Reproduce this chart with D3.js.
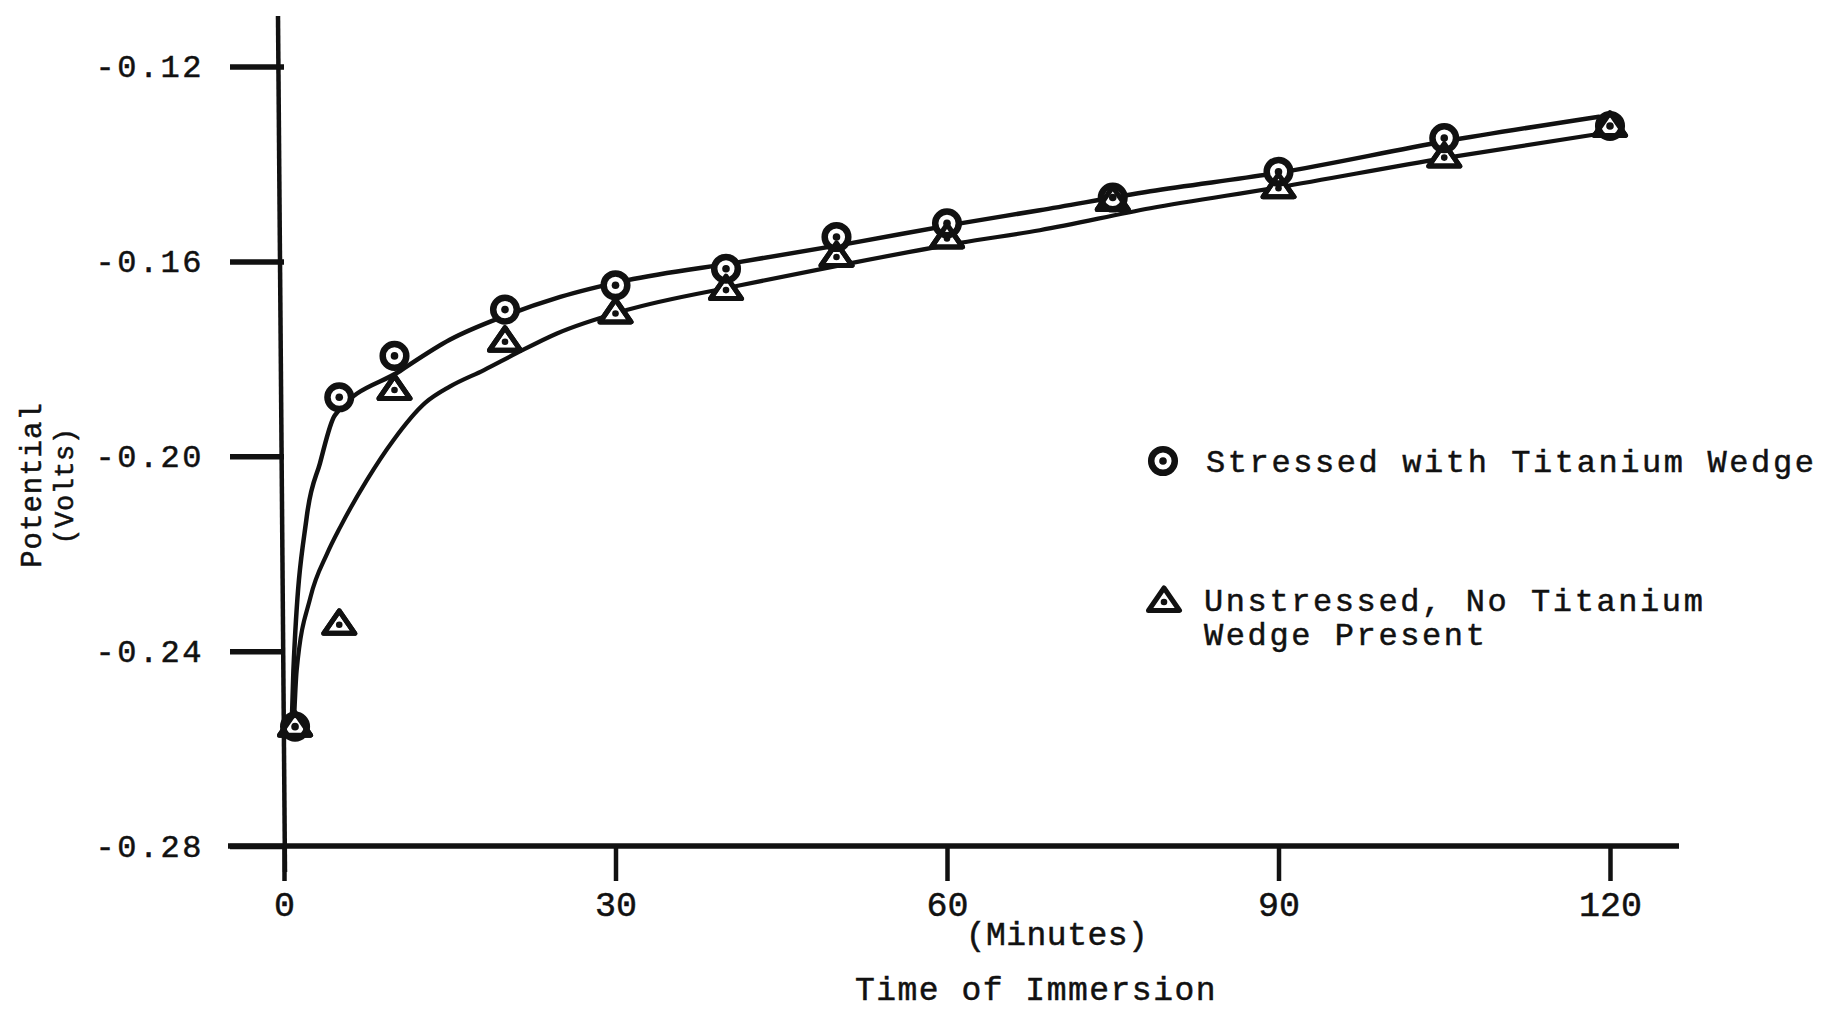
<!DOCTYPE html>
<html><head><meta charset="utf-8">
<script src="https://cdn.jsdelivr.net/npm/d3@7/dist/d3.min.js"></script>
<style>
html,body{margin:0;padding:0;background:#fff;}
svg{display:block;}
text{font-family:"Liberation Mono","Courier New",monospace;fill:#111;stroke:#111;stroke-width:0.5px;}
</style></head><body>
<svg id="chart" width="1831" height="1011"></svg>
<script>
// ---------- data ----------
const xTicks = [0, 30, 60, 90, 120];
const xTickLabels = ["0", "30", "60", "90", "120"];
const yTicks = [-0.28, -0.24, -0.20, -0.16, -0.12];
const yTickLabels = ["-0.28", "-0.24", "-0.20", "-0.16", "-0.12"];

const times      = [1, 5, 10, 20, 30, 40, 50, 60, 75, 90, 105, 120];
const stressed   = [-0.2555, -0.1879, -0.1794, -0.1699, -0.1649, -0.1615, -0.1550, -0.1522, -0.1469, -0.1416, -0.1347, -0.1322];
const unstressed = [-0.2555, -0.2346, -0.1864, -0.1765, -0.1707, -0.1659, -0.1591, -0.1553, -0.1476, -0.1450, -0.1387, -0.1324];

// hand-drawn fitted curves
const stressedCurveT = [0.7, 0.85, 2.06, 3.26, 4.6, 10.5, 15, 20, 25, 31, 41.3, 51.2, 61.2, 68.4, 78.4, 90, 105, 119];
const stressedCurveV = [-0.2550, -0.2440, -0.2124, -0.2014, -0.1916, -0.1825, -0.1761, -0.1712, -0.1673, -0.1639, -0.1601, -0.1563, -0.1522, -0.1495, -0.1456, -0.1418, -0.1354, -0.1303];
const unstressedCurveT = [0.9, 1.15, 2.4, 3.9, 5.1, 7.5, 9.9, 12.8, 15, 18.1, 21, 24.7, 31, 41.3, 51.2, 61.2, 68.4, 78.4, 90, 105, 118.5];
const unstressedCurveV = [-0.2550, -0.2440, -0.2289, -0.2200, -0.2145, -0.2049, -0.1967, -0.1890, -0.1857, -0.1823, -0.1789, -0.1748, -0.1700, -0.1649, -0.1604, -0.1562, -0.1536, -0.1491, -0.1448, -0.1388, -0.1340];

const legendLabels = ["Stressed with Titanium Wedge", "Unstressed, No Titanium", "Wedge Present"];
const xTitle1 = "(Minutes)";
const xTitle2 = "Time of Immersion";
const yTitle1 = "Potential";
const yTitle2 = "(Volts)";

// ---------- scales ----------
const svg = d3.select("#chart");
const x = d3.scaleLinear().domain([0, 120]).range([284, 1610]);
const y = d3.scaleLinear().domain([-0.28, -0.12]).range([846, 66.5]);
const ink = "#111";

// ---------- axes ----------
const yAxis = d3.axisLeft(y).tickValues(yTicks)
  .tickFormat((d, i) => yTickLabels[i]).tickSize(54).tickPadding(26);
const gy = svg.append("g").attr("transform", `translate(${x(0)},0)`).call(yAxis);
gy.select(".domain").remove();
gy.selectAll(".tick line").attr("stroke", ink).attr("stroke-width", 5.5);
gy.selectAll(".tick text").attr("font-size", 32).attr("letter-spacing", 2.5)
  .attr("font-family", "Liberation Mono").attr("fill", ink);

const xAxis = d3.axisBottom(x).tickValues(xTicks)
  .tickFormat((d, i) => xTickLabels[i]).tickSize(35).tickPadding(9);
const gx = svg.append("g").attr("transform", `translate(0,${y(-0.28)})`).call(xAxis);
gx.select(".domain").remove();
gx.selectAll(".tick line").attr("stroke", ink).attr("stroke-width", 4.5);
gx.selectAll(".tick text").attr("font-size", 35).attr("font-family", "Liberation Mono")
  .attr("fill", ink).attr("dy", "0.75em");

// axis lines
svg.append("line").attr("x1", x(0) - 6).attr("x2", x(0) + 1).attr("y1", 16).attr("y2", 872)
  .attr("stroke", ink).attr("stroke-width", 4.5);
svg.append("line").attr("x1", 228).attr("x2", 1679).attr("y1", y(-0.28)).attr("y2", y(-0.28))
  .attr("stroke", ink).attr("stroke-width", 5.5);

// ---------- curves ----------
const line = d3.line().x(d => x(d[0])).y(d => y(d[1])).curve(d3.curveMonotoneX);
const sCurve = stressedCurveT.map((t, i) => [t, stressedCurveV[i]]);
const uCurve = unstressedCurveT.map((t, i) => [t, unstressedCurveV[i]]);
svg.append("path").datum(sCurve).attr("d", line).attr("fill", "none")
  .attr("stroke", ink).attr("stroke-width", 4.5).attr("stroke-linecap", "round");
svg.append("path").datum(uCurve).attr("d", line).attr("fill", "none")
  .attr("stroke", ink).attr("stroke-width", 4.2).attr("stroke-linecap", "round");

// ---------- markers ----------
const triPath = "M0,-14 L15.5,8.5 L-15.5,8.5 Z";
function drawTriangle(g, fill) {
  g.append("path").attr("d", triPath).attr("fill", fill).attr("stroke", ink)
    .attr("stroke-width", 5).attr("stroke-linejoin", "round");
  g.append("circle").attr("r", 3.3).attr("fill", ink);
}
function drawCircle(g) {
  g.append("circle").attr("r", 11.8).attr("fill", "#fff").attr("stroke", ink).attr("stroke-width", 6.5);
  g.append("circle").attr("r", 3.8).attr("fill", ink);
}
const uData = times.map((t, i) => [t, unstressed[i]]);
const sData = times.map((t, i) => [t, stressed[i]]);
// white-filled triangles, then circles, then triangle outlines typed over them
svg.append("g").selectAll("g").data(uData).join("g")
  .attr("transform", d => `translate(${x(d[0])},${y(d[1])})`)
  .each(function () { drawTriangle(d3.select(this), "#fff"); });
svg.append("g").selectAll("g").data(sData).join("g")
  .attr("transform", d => `translate(${x(d[0])},${y(d[1])})`)
  .each(function () { drawCircle(d3.select(this)); });
svg.append("g").selectAll("path").data(uData).join("path")
  .attr("transform", d => `translate(${x(d[0])},${y(d[1])})`)
  .attr("d", triPath).attr("fill", "none").attr("stroke", ink)
  .attr("stroke-width", 5).attr("stroke-linejoin", "round");

// ---------- legend ----------
const lg = svg.append("g");
drawCircle(lg.append("g").attr("transform", "translate(1163,461)"));
drawTriangle(lg.append("g").attr("transform", "translate(1164,602)"), "#fff");
lg.append("text").attr("x", 1206).attr("y", 472).text(legendLabels[0])
  .attr("font-size", 32).attr("letter-spacing", 2.6);
lg.append("text").attr("x", 1204).attr("y", 611).text(legendLabels[1])
  .attr("font-size", 32).attr("letter-spacing", 2.6);
lg.append("text").attr("x", 1204).attr("y", 645).text(legendLabels[2])
  .attr("font-size", 32).attr("letter-spacing", 2.6);

// ---------- titles ----------
svg.append("text").attr("x", 1057).attr("y", 945).attr("text-anchor", "middle")
  .attr("font-size", 33).attr("letter-spacing", 0.5).text(xTitle1);
svg.append("text").attr("x", 1036).attr("y", 1000).attr("text-anchor", "middle")
  .attr("font-size", 33).attr("letter-spacing", 1.5).text(xTitle2);
svg.append("text").attr("transform", "translate(41,485) rotate(-90)").attr("text-anchor", "middle")
  .attr("font-size", 29).attr("letter-spacing", 1).text(yTitle1);
svg.append("text").attr("transform", "translate(73,486) rotate(-90)").attr("text-anchor", "middle")
  .attr("font-size", 27).attr("letter-spacing", 0.5).text(yTitle2);
</script>
</body></html>
